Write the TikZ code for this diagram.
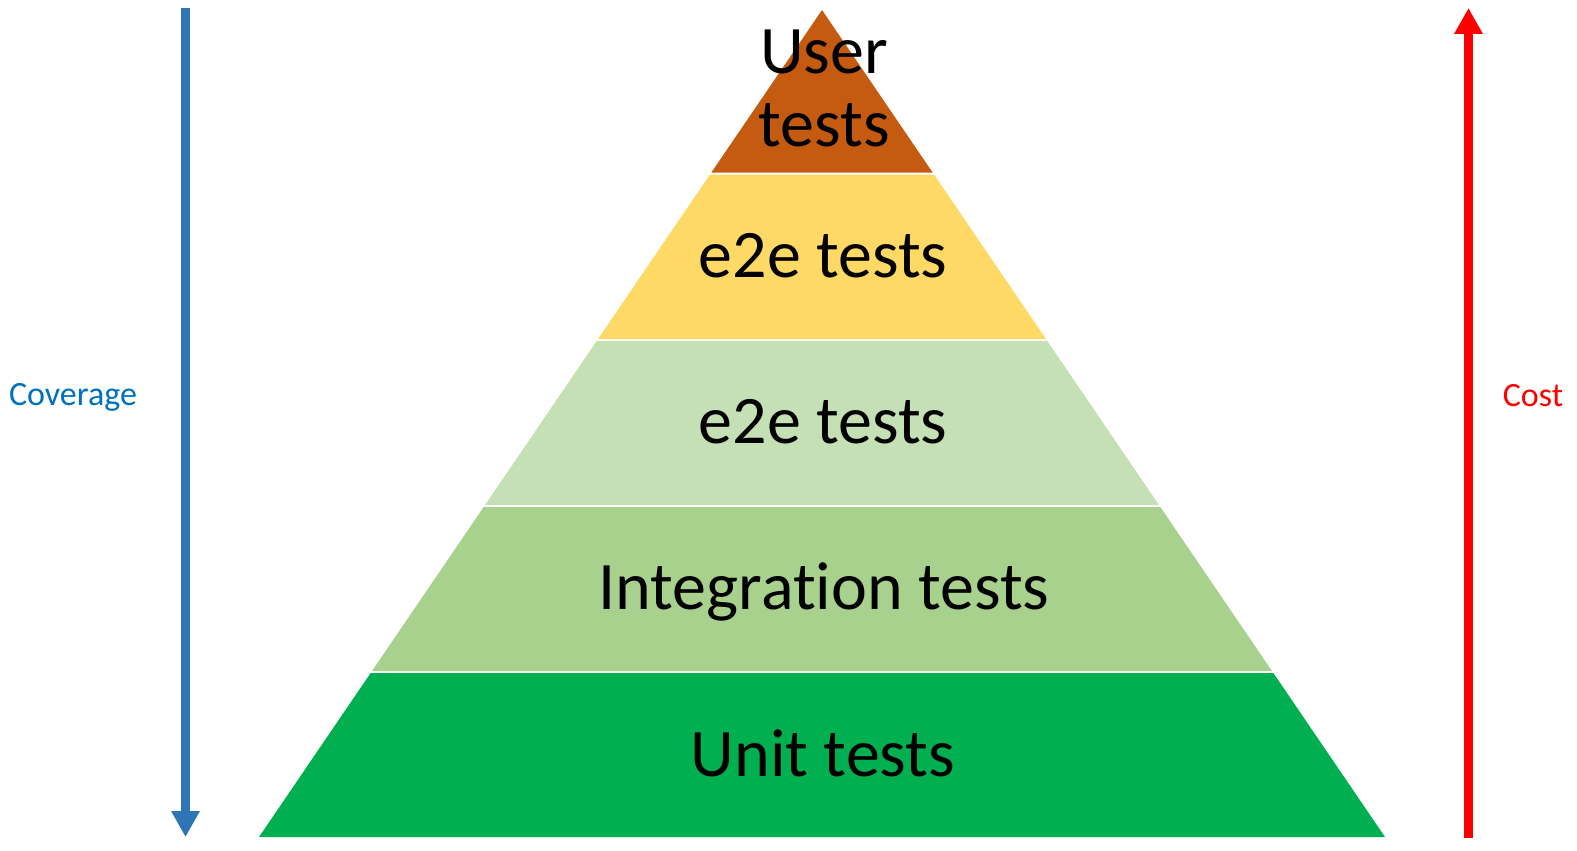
\documentclass[tikz,border=0pt]{standalone}
\usepackage{fontspec}
\setmainfont{Carlito}[Ligatures=NoCommon]
\usetikzlibrary{arrows.meta}
\definecolor{userfill}{HTML}{C55A11}
\definecolor{e2efill}{HTML}{FFD966}
\definecolor{e2elight}{HTML}{C5E0B4}
\definecolor{integfill}{HTML}{A9D18E}
\definecolor{unitfill}{HTML}{00B050}
\definecolor{covblue}{HTML}{2E75B6}
\definecolor{covtext}{HTML}{0070C0}
\tikzset{
  layer/.style={font=\fontsize{68}{73}\selectfont,inner sep=0pt,anchor=base},
  axislabel/.style={font=\fontsize{34}{40}\selectfont,inner sep=0pt,anchor=base},
  axisarrow/.style={line width=9pt,-{Triangle[width=27pt,length=26pt]}},
}
\begin{document}
\begin{tikzpicture}[x=1pt,y=-1pt]
    \useasboundingbox (0,0) rectangle (1577,851);
    % layers
    \fill[userfill] (822,10) -- (932.63,172.5) -- (711.37,172.5) -- cycle;
    \fill[e2efill] (710.01,174.5) -- (933.99,174.5) -- (1045.97,339) -- (598.03,339) -- cycle;
    \fill[e2elight] (596.67,341) -- (1047.33,341) -- (1158.98,505) -- (485.02,505) -- cycle;
    \fill[integfill] (483.66,507) -- (1160.34,507) -- (1271.99,671) -- (372.01,671) -- cycle;
    \fill[unitfill] (370.65,673) -- (1273.35,673) -- (1385,837) -- (259,837) -- cycle;
    % labels
    \node[layer,anchor=north,align=center] (user) at (824,30) {User\\tests};
    \node[layer] (e2e) at (823,277) {e2e tests};
    \node[layer] (e2eb) at (823,443) {e2e tests};
    \node[layer] (integ) at (824,609) {Integration tests};
    \node[layer] (unit) at (823,776) {Unit tests};
    \node[axislabel,text=covtext] (coverage) at (73,405) {Coverage};
    \node[axislabel,text=red] (cost) at (1533,406) {Cost};
    % arrows
    \coordinate (covtop) at (185.5,8);
    \coordinate (covbot) at (185.5,837);
    \coordinate (costbot) at (1468.5,838);
    \coordinate (costtop) at (1468.5,8);
    \draw[axisarrow,covblue] (covtop) -- (covbot);
    \draw[axisarrow,red] (costbot) -- (costtop);
  \end{tikzpicture}
\end{document}
